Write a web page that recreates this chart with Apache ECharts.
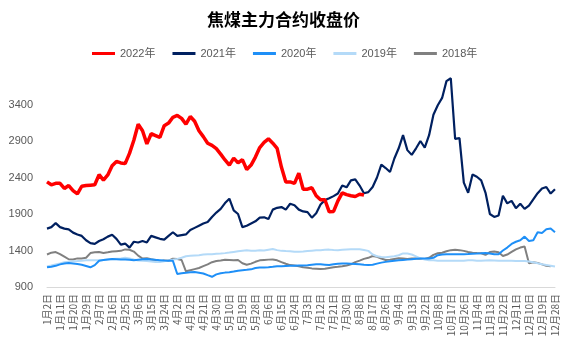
<!DOCTYPE html>
<html><head><meta charset="utf-8">
<script src="https://cdn.jsdelivr.net/npm/echarts@6/dist/echarts.min.js"></script>
<style>html,body{margin:0;padding:0;background:#fff}#c{width:567px;height:344px}</style>
</head><body><div id="c"></div>
<script>
const chartTitle = '焦煤主力合约收盘价';
const seriesNames = ['2022年', '2021年', '2020年', '2019年', '2018年'];
const seriesColors = ['#FF0000', '#002060', '#1E8FF7', '#B4DAF8', '#808080'];
// trading-calendar categories: Jan 2 .. Dec 28, without the skipped holidays
const skippedDates = ['4月5日', '5月1日', '10月1日', '10月2日', '10月3日', '10月4日', '10月5日', '10月6日', '10月7日'];
const categories = [];
for (let d = new Date(2022, 0, 2); d <= new Date(2022, 11, 28); d.setDate(d.getDate() + 1)) {
  const s = (d.getMonth() + 1) + '月' + d.getDate() + '日';
  if (!skippedDates.includes(s)) categories.push(s);
}
// values read every 3rd category
const SAMPLE_STEP = 3;
const sampleDates = categories.filter((_, i) => i % SAMPLE_STEP === 0);

const v2022 = [2340,2300,2320,2320,2250,2290,2220,2175,2280,2290,2295,2300,2440,2365,2435,2560,2620,2600,2590,2730,
  2910,3130,3040,2860,3000,2975,2950,3110,3145,3225,3250,3210,3130,3235,3170,3040,2960,2870,2840,2795,
  2720,2640,2570,2665,2600,2645,2510,2570,2680,2810,2880,2930,2870,2800,2540,2340,2340,2320,2460,2240,
  2240,2260,2150,2095,2095,1930,1935,2080,2190,2165,2150,2140,2170,2160];
const v2021 = [1700,1720,1775,1720,1700,1690,1645,1620,1600,1540,1500,1490,1530,1555,1590,1615,1560,1480,1495,1440,
  1520,1510,1530,1510,1600,1580,1560,1550,1600,1650,1600,1610,1620,1680,1710,1740,1770,1790,1860,1920,
  1970,2050,2110,1950,1900,1720,1740,1770,1800,1850,1855,1830,1960,1985,1995,1960,2040,2020,1960,1935,
  1925,1850,1910,2030,2090,2115,2145,2180,2290,2265,2360,2375,2290,2185,2200,2270,2400,2575,2530,2475,
  2660,2800,2980,2775,2710,2800,2900,2810,2980,3260,3390,3490,3720,3760,2930,2940,2330,2190,2440,2410,
  2360,2190,1900,1860,1880,2150,2045,2080,1980,2040,1970,2015,2100,2185,2250,2270,2180,2240];
const v2020 = [1170,1178,1190,1210,1222,1228,1222,1215,1205,1188,1170,1200,1260,1270,1278,1284,1280,1276,1276,1272,
  1267,1274,1280,1284,1278,1272,1267,1262,1258,1258,1078,1088,1094,1102,1104,1096,1085,1062,1040,1073,
  1088,1097,1103,1112,1124,1130,1135,1142,1160,1167,1167,1172,1178,1185,1185,1188,1190,1190,1194,1196,
  1199,1205,1210,1210,1205,1200,1212,1220,1222,1222,1220,1216,1212,1206,1202,1205,1220,1234,1244,1254,
  1260,1265,1270,1275,1280,1286,1290,1290,1290,1300,1336,1345,1350,1350,1350,1350,1350,1352,1355,1358,
  1362,1367,1360,1348,1350,1400,1440,1490,1520,1540,1590,1530,1540,1650,1640,1690,1700,1650];
const v2019 = [1182,1195,1210,1222,1238,1246,1254,1256,1260,1266,1267,1267,1267,1270,1278,1284,1288,1292,1300,1292,
  1276,1262,1258,1256,1248,1244,1244,1252,1262,1275,1285,1300,1322,1328,1332,1336,1345,1349,1349,1354,
  1358,1364,1372,1381,1390,1398,1404,1398,1396,1404,1400,1410,1420,1405,1395,1392,1390,1382,1382,1385,
  1392,1397,1402,1405,1410,1412,1408,1405,1410,1414,1416,1416,1418,1408,1395,1345,1322,1310,1306,1313,
  1320,1335,1360,1360,1345,1320,1292,1277,1267,1265,1260,1258,1258,1258,1258,1258,1260,1265,1265,1260,
  1258,1262,1265,1262,1258,1258,1258,1258,1256,1256,1256,1250,1240,1225,1212,1200,1190,1180];
const v2018 = [1345,1370,1378,1350,1315,1280,1278,1292,1292,1300,1365,1375,1378,1367,1375,1385,1390,1395,1415,1410,
  1385,1330,1290,1293,1280,1268,1252,1262,1260,1288,1282,1270,1115,1130,1145,1160,1185,1210,1240,1255,
  1262,1272,1270,1265,1270,1225,1205,1220,1245,1265,1270,1275,1277,1265,1240,1218,1200,1195,1185,1170,
  1165,1155,1150,1145,1150,1160,1170,1176,1185,1195,1210,1240,1262,1285,1300,1325,1315,1290,1270,1275,
  1285,1295,1290,1285,1290,1290,1288,1285,1300,1340,1362,1370,1390,1405,1410,1405,1395,1380,1370,1365,
  1362,1340,1378,1385,1375,1325,1345,1380,1415,1440,1455,1225,1240,1230,1210,1190,1185];
const seriesValues = [v2022, v2021, v2020, v2019, v2018];
const lineWidths = [3.5, 2.2, 2, 2, 2];
const yMin = 900, yMax = 3900, yStep = 500;

const chart = echarts.init(document.getElementById('c'), null, {renderer: 'canvas'});
chart.setOption({
  animation: false,
  backgroundColor: '#fff',
  title: {
    text: chartTitle, left: 'center', top: 6,
    textStyle: {fontSize: 17, fontWeight: 'bold', color: '#000', fontFamily: 'Noto Sans CJK SC'}
  },
  legend: {
    left: 87, top: 43, itemWidth: 23, itemHeight: 3, itemGap: 17, icon: 'rect',
    textStyle: {fontSize: 11, color: '#595959', fontFamily: 'Liberation Sans, Noto Sans CJK SC'},
    data: seriesNames
  },
  grid: {left: 47, right: 12, top: 68, bottom: 57, containLabel: false},
  xAxis: {
    type: 'category', data: categories, boundaryGap: false,
    axisLine: {lineStyle: {color: '#D9D9D9'}},
    axisTick: {show: false},
    axisLabel: {interval: 8, rotate: 90, fontSize: 10, color: '#595959', margin: 7, fontFamily: 'Noto Sans CJK SC'},
    splitLine: {show: false}
  },
  yAxis: {
    type: 'value', min: yMin, max: yMax, interval: yStep,
    axisLine: {show: false}, axisTick: {show: false},
    splitLine: {show: false},
    axisLabel: {fontSize: 11, color: '#595959', margin: 14, fontFamily: 'Liberation Sans',
      formatter: v => (v === yMax ? '' : String(v))}
  },
  series: seriesNames.map((name, s) => ({
    name, type: 'line', symbol: 'none', smooth: false,
    z: s === 0 ? 5 : 4 - s * 0.1,
    color: seriesColors[s],
    lineStyle: {width: lineWidths[s], color: seriesColors[s]},
    data: seriesValues[s].map((v, k) => [sampleDates[k], v])
  }))
});
</script></body></html>
